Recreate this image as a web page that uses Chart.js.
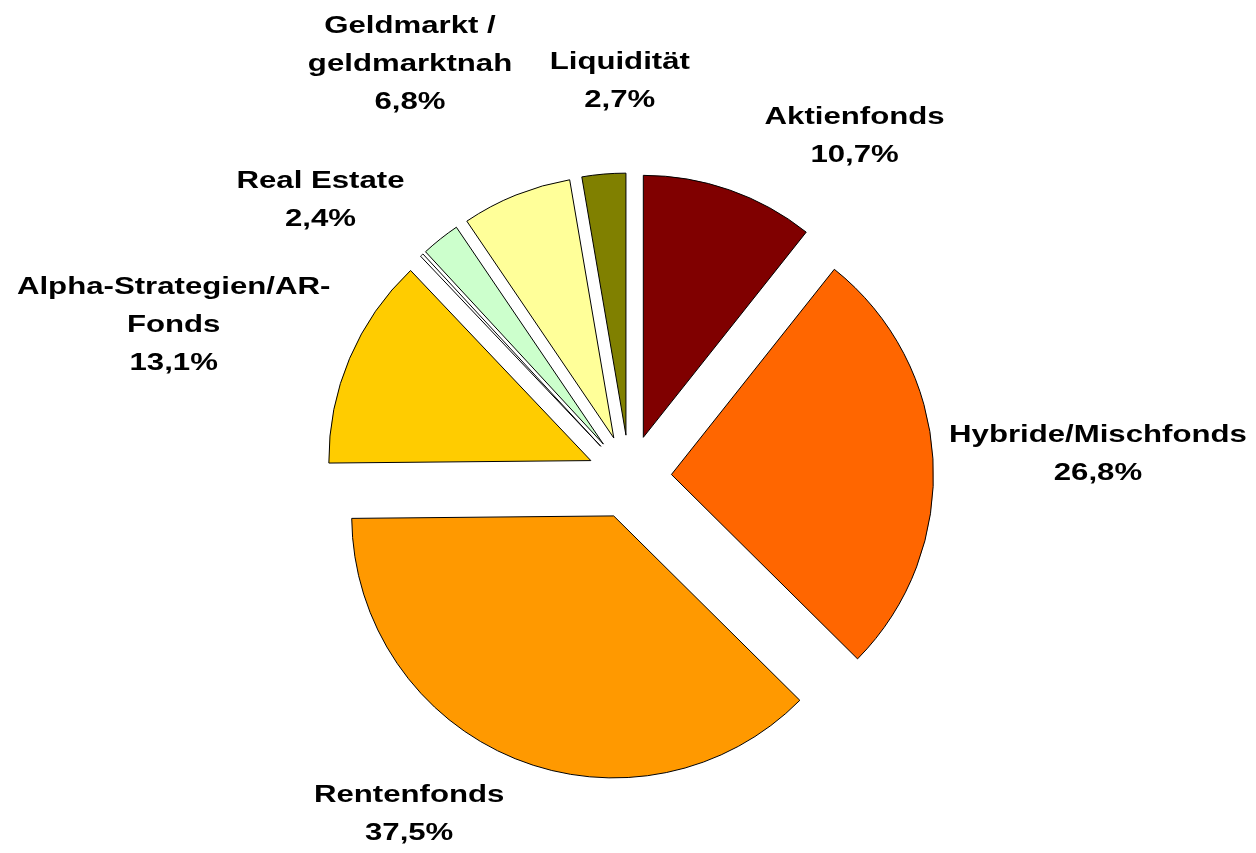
<!DOCTYPE html>
<html>
<head>
<meta charset="utf-8">
<title>Fondsaufteilung</title>
<script src="https://cdn.jsdelivr.net/npm/chart.js@4.4.1/dist/chart.umd.min.js"></script>
<style>
  html, body { margin: 0; padding: 0; background: #fff; }
  #wrap { width: 1256px; height: 853px; }
</style>
</head>
<body>
<div id="wrap"><canvas id="pieChart" width="1256" height="853"></canvas></div>
<script>
// slices clockwise from 12 o'clock; the unlabeled 0.2 is the thin white sliver
const categories = ['Aktienfonds', 'Hybride/Mischfonds', 'Rentenfonds', 'Alpha-Strategien/AR-Fonds', '', 'Real Estate', 'Geldmarkt / geldmarktnah', 'Liquidität'];
const shares = [10.7, 26.8, 37.5, 13.1, 0.2, 2.4, 6.8, 2.7];
const labelLines = [['Aktienfonds'], ['Hybride/Mischfonds'], ['Rentenfonds'], ['Alpha-Strategien/AR-', 'Fonds'], [], ['Real Estate'], ['Geldmarkt /', 'geldmarktnah'], ['Liquidität']];
const sliceColors = ['#800000', '#FF6600', '#FF9900', '#FFCC00', '#FFFFFF', '#CCFFCC', '#FFFF99', '#808000'];

const EXPLODE = 42;       // distance every slice is pulled out
const LINE_H = 38;
const TEXT_STRETCH = 1.355; // labels in the original are drawn wide

// shift of each label block from the outer midpoint of its slice
const labelShift = [[125, -53], [165, -4], [-106, 56], [-176, -33], null, [-120, -38], [-106, -130], [16, -92]];

function pct(v) {
    return v.toFixed(1).replace('.', ',') + '%';
}

const explodePlugin = {
    id: 'explode',
    beforeDatasetsDraw(chart) {
        const area = chart.chartArea;
        const cx = (area.left + area.right) / 2;
        const cy = (area.top + area.bottom) / 2;
        chart.getDatasetMeta(0).data.forEach(arc => {
            const mid = (arc.startAngle + arc.endAngle) / 2;
            arc.x = cx + Math.cos(mid) * EXPLODE;
            arc.y = cy + Math.sin(mid) * EXPLODE;
        });
    }
};

const sliceLabels = {
    id: 'sliceLabels',
    afterDatasetsDraw(chart) {
        const ctx = chart.ctx;
        ctx.save();
        ctx.font = 'bold 23px "Liberation Sans", Arial, sans-serif';
        ctx.fillStyle = '#000';
        ctx.textAlign = 'center';
        ctx.textBaseline = 'middle';
        chart.getDatasetMeta(0).data.forEach((arc, i) => {
            if (!labelLines[i].length) return;
            const mid = (arc.startAngle + arc.endAngle) / 2;
            const x = arc.x + Math.cos(mid) * arc.outerRadius + labelShift[i][0];
            const y = arc.y + Math.sin(mid) * arc.outerRadius + labelShift[i][1];
            const lines = labelLines[i].concat([pct(shares[i])]);
            const top = y - (lines.length - 1) * LINE_H / 2;
            lines.forEach((t, k) => {
                ctx.save();
                ctx.translate(x, top + k * LINE_H);
                ctx.scale(TEXT_STRETCH, 1);
                ctx.fillText(t, 0, 0);
                ctx.restore();
            });
        });
        ctx.restore();
    }
};

const ctx = document.getElementById('pieChart').getContext('2d');
const pieChart = new Chart(ctx, {
    type: 'pie',
    data: {
        labels: categories,
        datasets: [{
            data: shares,
            backgroundColor: sliceColors,
            borderColor: '#000000',
            borderWidth: 1,
            hoverOffset: 0
        }]
    },
    options: {
        responsive: false,
        animation: false,
        radius: 262,
        layout: {
            padding: { left: 3, top: 101, right: 0, bottom: 0 }
        },
        plugins: {
            legend: { display: false },
            tooltip: { enabled: false }
        }
    },
    plugins: [explodePlugin, sliceLabels]
});
</script>
</body>
</html>
